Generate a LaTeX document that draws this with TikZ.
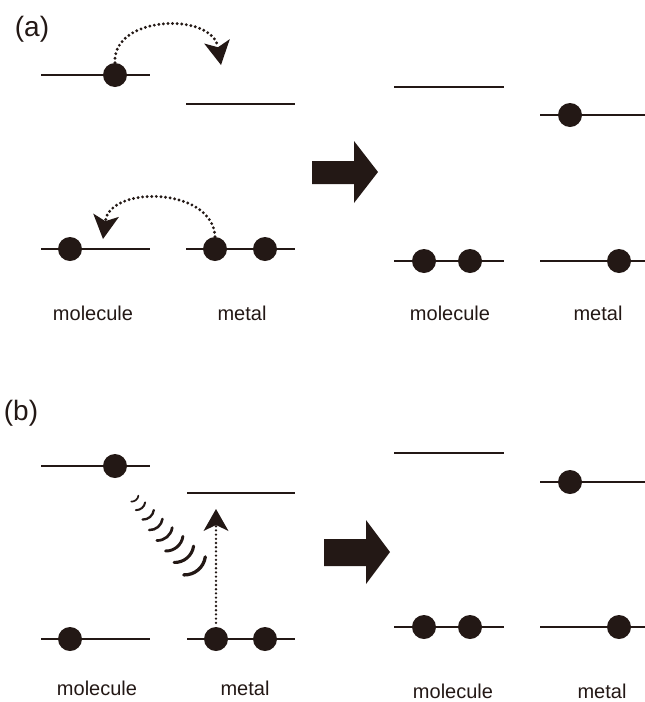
\documentclass[tikz,border=0pt]{standalone}
\usepackage{fontspec}
\setmainfont{Liberation Sans}
\usetikzlibrary{arrows.meta,calc}
\definecolor{ink}{HTML}{231815}
\tikzset{
  lvl/.style={draw=ink,line width=2pt},
  elec/.style={circle,fill=ink,draw=none,minimum size=24pt,inner sep=0pt},
  lab/.style={font=\fontsize{20}{24}\selectfont,text=ink,anchor=base,inner sep=0pt},
  plab/.style={font=\fontsize{28}{30}\selectfont,text=ink,inner sep=0pt},
  hop/.style={draw=ink,line width=3.2pt,line cap=round,dash pattern=on 0pt off 4.6pt,
    -{Stealth[length=24pt,width=26pt,inset=6pt,fill=ink,line width=0pt]}},
  exc/.style={draw=ink,line width=2.6pt,line cap=round,dash pattern=on 0pt off 4.2pt,
    -{Stealth[length=22pt,width=25pt,inset=6pt,fill=ink,line width=0pt]}},
  wave/.style={draw=ink,line cap=round},
  bigarrow/.style={fill=ink,draw=none}
}
\begin{document}
\begin{tikzpicture}[x=1pt,y=-1pt]
\useasboundingbox (0,0) rectangle (645,702);

% ---------------- panel (a) ----------------
\node[plab] (la) at (32,29) {(a)};
% left before
\draw[lvl] (41,75) -- (150,75);
\draw[lvl] (186,104) -- (295,104);
\draw[lvl] (41,249) -- (150,249);
\draw[lvl] (186,249) -- (295,249);
\node[elec] (a1) at (115,75) {};
\node[elec] (a2) at (70,249) {};
\node[elec] (a3) at (215,249) {};
\node[elec] (a4) at (265,249) {};
\coordinate (at1) at (221,65);
\coordinate (at2) at (103,239);
\draw[hop] (a1.north) .. controls (112,15) and (212,12) .. (at1);
\draw[hop] (a3.north) .. controls (213,187) and (110,185) .. (at2);
\node[lab] (ma1) at (93,320) {molecule};
\node[lab] (me1) at (242,320) {metal};
% big arrow
\fill[bigarrow] (312,161) -- (354,161) -- (354,141) -- (378,172) -- (354,203) -- (354,184) -- (312,184) -- cycle;
% right after
\draw[lvl] (394,87) -- (504,87);
\draw[lvl] (540,115) -- (645,115);
\draw[lvl] (394,261) -- (504,261);
\draw[lvl] (540,261) -- (645,261);
\node[elec] (a5) at (570,115) {};
\node[elec] (a6) at (424,261) {};
\node[elec] (a7) at (470,261) {};
\node[elec] (a8) at (619,261) {};
\node[lab] (ma2) at (450,320) {molecule};
\node[lab] (me2) at (598,320) {metal};

% ---------------- panel (b) ----------------
\node[plab] (lb) at (21,413) {(b)};
\draw[lvl] (41,466) -- (150,466);
\draw[lvl] (187,493) -- (295,493);
\draw[lvl] (41,639) -- (150,639);
\draw[lvl] (187,639) -- (295,639);
\node[elec] (b1) at (115,466) {};
\node[elec] (b2) at (70,639) {};
\node[elec] (b3) at (216,639) {};
\node[elec] (b4) at (265,639) {};
\coordinate (bt) at (216,509);
\draw[exc] ($(b3.north)+(0,-4)$) -- (bt);
% waves
\foreach \mx/\my/\r/\w in {136/500/7/1.7, 142/508/9/2.0, 150/517/11/2.3, 158/527/13/2.5,
                          167/537/15/2.7, 177/547/17/2.9, 187/558/19/3.1, 198/570/21/3.3}{
  \pgfmathsetmacro\sx{\mx+\r*(cos(8)-cos(50))}
  \pgfmathsetmacro\sy{\my+\r*(sin(8)-sin(50))}
  \draw[wave,line width=\w pt] (\sx,\sy) arc[start angle=8,end angle=92,radius=\r];
}
\node[lab] (mb1) at (97,695) {molecule};
\node[lab] (mbe1) at (245,695) {metal};
% big arrow
\fill[bigarrow] (324,539) -- (366,539) -- (366,520) -- (390,552) -- (366,584) -- (366,566) -- (324,566) -- cycle;
% right after
\draw[lvl] (394,453) -- (504,453);
\draw[lvl] (540,482) -- (645,482);
\draw[lvl] (394,627) -- (504,627);
\draw[lvl] (540,627) -- (645,627);
\node[elec] (b5) at (570,482) {};
\node[elec] (b6) at (424,627) {};
\node[elec] (b7) at (470,627) {};
\node[elec] (b8) at (619,627) {};
\node[lab] (mb2) at (453,698) {molecule};
\node[lab] (mbe2) at (602,698) {metal};
\end{tikzpicture}
\end{document}
